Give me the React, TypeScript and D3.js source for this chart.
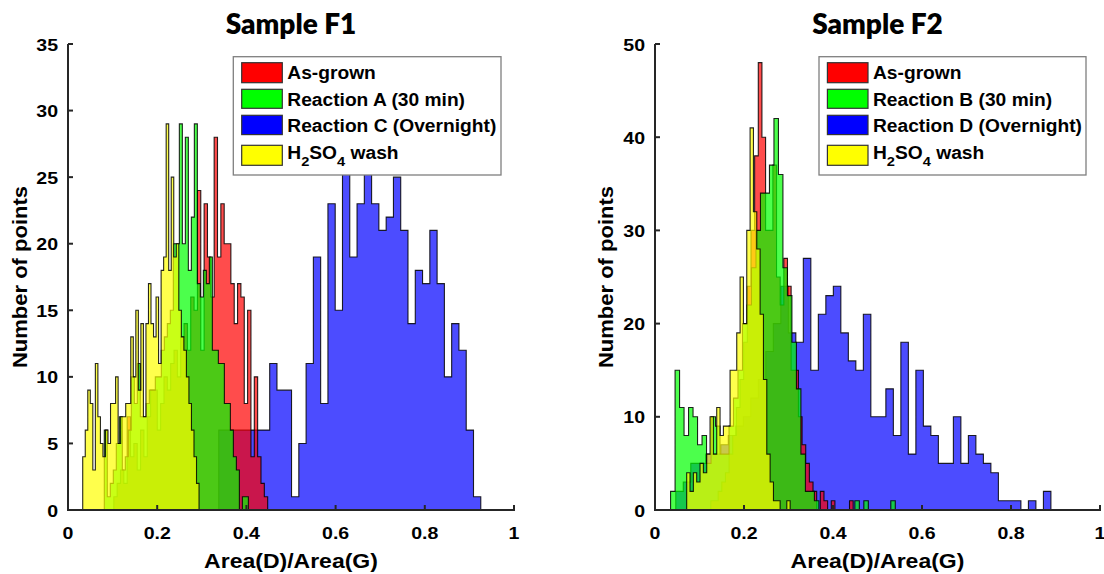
import React from "react";
import * as d3 from "d3";

const W = 1104;
const H = 574;

const xTickValues = [0, 0.2, 0.4, 0.6, 0.8, 1];
const xTickLabels = ["0", "0.2", "0.4", "0.6", "0.8", "1"];
const f1YTicks = [0, 5, 10, 15, 20, 25, 30, 35];
const f2YTicks = [0, 10, 20, 30, 40, 50];
const f1Legend = ["As-grown", "Reaction A (30 min)", "Reaction C (Overnight)", "H2SO4 wash"];
const f2Legend = ["As-grown", "Reaction B (30 min)", "Reaction D (Overnight)", "H2SO4 wash"];
const legendColors = ["#ff0000", "#00ff00", "#0000ff", "#ffff00"];

// ---------- Sample F1 ----------
const f1BlueStart = 0.338;
const f1BlueWidth = 0.01632;
const f1BlueCounts = [6, 6, 6, 6, 6, 6, 6, 11, 9, 9, 1, 5, 11, 19, 8, 23, 15, 26, 19, 23, 26, 23, 21, 22, 25, 21, 14, 18, 17, 21, 17, 10, 14, 12, 6, 1];

const f1RedStart = 0.1027;
const f1RedWidth = 0.0075;
const f1RedCounts = [1, 2, 3, 2, 7, 4, 5, 3, 6, 4, 7, 9, 9, 6, 8, 10, 9, 11, 12, 10, 13, 14, 12, 16, 15, 24, 12, 23, 19, 16, 28, 19, 23, 20, 20, 17, 14, 17, 16, 8, 15, 4, 10, 4, 2, 1];

const f1GreenStart = 0.0814;
const f1GreenWidth = 0.00673;
const f1GreenCounts = [6, 1, 2, 3, 5, 7, 3, 4, 6, 10, 8, 11, 7, 7, 8, 9, 9, 10, 10, 12, 13, 14, 15, 20, 20, 29, 20, 28, 18, 22, 29, 17, 16, 18, 17, 19, 12, 12, 11, 11, 8, 8, 6, 4, 3, 0, 1, 1];

const f1YellowStart = 0.033;
const f1YellowWidth = 0.00567;
const f1YellowCounts = [4, 6, 9, 8, 3, 11, 7, 5, 4, 6, 5, 8, 8, 10, 5, 7, 7, 8, 8, 13, 10, 15, 9, 14, 7, 14, 17, 14, 13, 16, 11, 18, 19, 29, 18, 25, 19, 20, 15, 13, 12, 10, 8, 6, 4, 2];

// ---------- Sample F2 ----------
const f2BlueStart = 0.0467;
const f2BlueWidth = 0.01686;
const f2BlueCounts = [2, 3, 5, 5, 6, 6, 7, 8, 9, 10, 12, 14, 17, 20, 24, 19, 18, 27, 15, 21, 23, 24, 19, 16, 15, 21, 10, 10, 13, 8, 18, 6, 15, 9, 8, 5, 5, 10, 5, 8, 6, 5, 4, 1, 1, 1, 0, 1, 0, 2];

const f2RedStart = 0.1255;
const f2RedWidth = 0.0082;
const f2RedCounts = [1, 1, 2, 3, 4, 6, 8, 11, 14, 18, 24, 30, 38, 48, 40, 30, 30, 37, 25, 22, 27, 24, 15, 15, 10, 7, 5, 3, 2, 0, 2, 1, 0, 1, 0, 0, 0, 0, 1];

const f2GreenStart = 0.035;
const f2GreenWidth = 0.0101;
const f2GreenCounts = [2, 15, 11, 8, 11, 10, 7, 8, 5, 10, 9, 6, 6, 9, 12, 15, 20, 22, 26, 30, 34, 34, 37, 42, 36, 26, 23, 18, 13, 6, 2, 2, 1, 0, 0, 0, 0, 0, 0, 0, 0, 1, 0, 1, 0, 0, 0, 0, 0, 1];

const f2YellowStart = 0.0712;
const f2YellowWidth = 0.0075;
const f2YellowCounts = [4, 2, 4, 3, 5, 4, 6, 10, 6, 11, 8, 9, 9, 15, 15, 19, 25, 20, 30, 41, 32, 28, 21, 14, 6, 3, 1, 1, 0, 0, 1];

type Hist = { start: number; width: number; counts: number[]; color: string };

const ARIAL = "'Liberation Sans', Arial, sans-serif";
const TITLE_FONT = "Lato, 'Open Sans', sans-serif";
const AXIS_COLOR = "#262626";

function histPath(h: Hist, x: d3.ScaleLinear<number, number>, y: d3.ScaleLinear<number, number>) {
  const pts: [number, number][] = [[h.start, 0]];
  h.counts.forEach((c, i) => {
    const a = h.start + i * h.width;
    const b = a + h.width;
    pts.push([a, c], [b, c]);
  });
  pts.push([h.start + h.counts.length * h.width, 0]);
  const line = d3
    .line<[number, number]>()
    .x((d) => x(d[0]))
    .y((d) => y(d[1]));
  return line(pts) + "Z";
}

function SText(props: {
  x: number;
  y: number;
  anchor?: string;
  size: number;
  stretch?: number;
  children: React.ReactNode;
  rotate?: boolean;
  font?: string;
  weight?: string | number;
}) {
  const { x, y, anchor = "middle", size, stretch = 1, children, rotate, font = ARIAL, weight = "bold" } = props;
  const t = rotate
    ? `translate(${x},${y}) rotate(-90) scale(${stretch},1)`
    : `translate(${x},${y}) scale(${stretch},1)`;
  return (
    <text transform={t} textAnchor={anchor as any} fontFamily={font} fontWeight={weight} fontSize={size} fill="#000">
      {children}
    </text>
  );
}

function LegendLabel({ label }: { label: string }) {
  if (label.startsWith("H2SO4")) {
    return (
      <>
        H
        <tspan dy={7} fontSize={13.5}>2</tspan>
        <tspan dy={-7}>SO</tspan>
        <tspan dy={7} fontSize={13.5}>4</tspan>
        <tspan dy={-7}>{label.slice(5)}</tspan>
      </>
    );
  }
  return <>{label}</>;
}

type PanelProps = {
  x0: number;
  x1: number;
  yTop: number;
  yBottom: number;
  yMax: number;
  yTicks: number[];
  title: string;
  legend: string[];
  legendX: number;
  legendW: number;
  hists: Hist[];
  yLabelX: number;
};

function Panel(p: PanelProps) {
  const x = d3.scaleLinear().domain([0, 1]).range([p.x0, p.x1]);
  const y = d3.scaleLinear().domain([0, p.yMax]).range([p.yBottom, p.yTop]);
  const cx = (p.x0 + p.x1) / 2;
  const legendY = 56.7;
  const swY = [6, 32.6, 58.6, 88.6];
  const swH = [20, 19, 19.3, 20];
  const txY = [22.6, 49.3, 75.3, 102];
  return (
    <g>
      {p.hists.map((h, i) => (
        <path
          key={i}
          d={histPath(h, x, y)}
          fill={h.color}
          fillOpacity={0.7}
          stroke="#000"
          strokeOpacity={0.85}
          strokeWidth={1.1}
          strokeLinejoin="miter"
        />
      ))}
      {/* axes */}
      <line x1={p.x0} x2={p.x0} y1={p.yBottom + 1} y2={p.yTop} stroke={AXIS_COLOR} strokeWidth={2} />
      <line x1={p.x0 - 1} x2={p.x1 + 1} y1={p.yBottom} y2={p.yBottom} stroke={AXIS_COLOR} strokeWidth={2} />
      {p.yTicks.map((t) => (
        <g key={t}>
          <line x1={p.x0} x2={p.x0 + 5} y1={y(t)} y2={y(t)} stroke={AXIS_COLOR} strokeWidth={2} />
          <SText x={p.x0 - 10} y={y(t) + 6.5} anchor="end" size={17} stretch={1.15}>{t}</SText>
        </g>
      ))}
      {xTickValues.map((t, i) => (
        <g key={t}>
          <line x1={x(t)} x2={x(t)} y1={p.yBottom} y2={p.yBottom - 5} stroke={AXIS_COLOR} strokeWidth={2} />
          <SText x={x(t)} y={p.yBottom + 29} size={17} stretch={1.15}>{xTickLabels[i]}</SText>
        </g>
      ))}
      <SText x={cx} y={p.yBottom + 58} size={19.5} stretch={1.18}>Area(D)/Area(G)</SText>
      <SText x={p.yLabelX} y={(p.yTop + p.yBottom) / 2} size={20} stretch={1.1} rotate>Number of points</SText>
      <SText x={cx} y={34} size={28} font={TITLE_FONT} weight={800}>{p.title}</SText>
      {/* legend */}
      <rect x={p.legendX} y={legendY} width={p.legendW} height={118.3} fill="#fff" stroke="#7f7f7f" strokeWidth={1.3} />
      {p.legend.map((l, i) => (
        <g key={l}>
          <rect x={p.legendX + 8.4} y={legendY + swY[i]} width={40.6} height={swH[i]} fill={legendColors[i]} stroke="#333" strokeWidth={1.2} />
          <SText x={p.legendX + 54} y={legendY + txY[i]} anchor="start" size={17.7} stretch={1.085}>
            <LegendLabel label={l} />
          </SText>
        </g>
      ))}
    </g>
  );
}

export default function App() {
  const f1Hists: Hist[] = [
    { start: f1BlueStart, width: f1BlueWidth, counts: f1BlueCounts, color: "#0000ff" },
    { start: f1RedStart, width: f1RedWidth, counts: f1RedCounts, color: "#ff0000" },
    { start: f1GreenStart, width: f1GreenWidth, counts: f1GreenCounts, color: "#00ff00" },
    { start: f1YellowStart, width: f1YellowWidth, counts: f1YellowCounts, color: "#ffff00" },
  ];
  const f2Hists: Hist[] = [
    { start: f2BlueStart, width: f2BlueWidth, counts: f2BlueCounts, color: "#0000ff" },
    { start: f2RedStart, width: f2RedWidth, counts: f2RedCounts, color: "#ff0000" },
    { start: f2GreenStart, width: f2GreenWidth, counts: f2GreenCounts, color: "#00ff00" },
    { start: f2YellowStart, width: f2YellowWidth, counts: f2YellowCounts, color: "#ffff00" },
  ];
  return (
    <svg width={W} height={H} style={{ position: "absolute", left: 0, top: 0, background: "#fff" }}>
      <rect width={W} height={H} fill="#fff" />
      <Panel x0={68} x1={514} yTop={44} yBottom={510} yMax={35} yTicks={f1YTicks} title="Sample F1" legend={f1Legend} legendX={233.3} legendW={267.7} hists={f1Hists} yLabelX={27} />
      <Panel x0={655} x1={1100} yTop={44} yBottom={510} yMax={50} yTicks={f2YTicks} title="Sample F2" legend={f2Legend} legendX={819} legendW={267} hists={f2Hists} yLabelX={613} />
    </svg>
  );
}
